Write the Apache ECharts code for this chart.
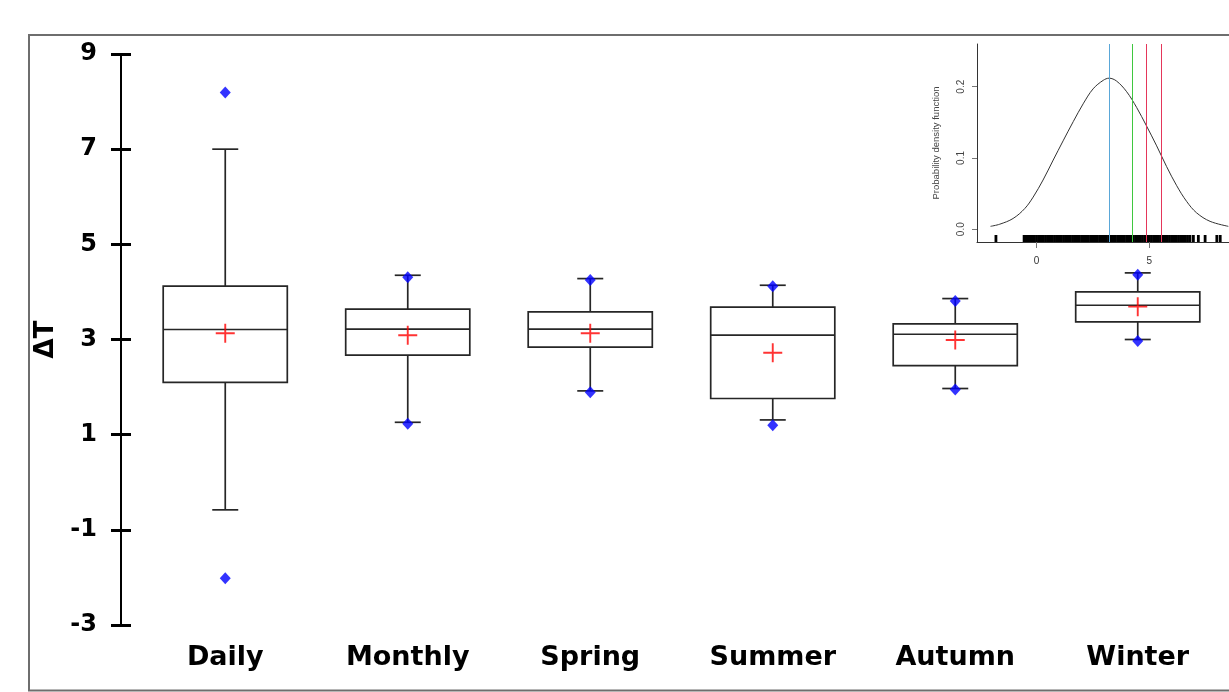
<!DOCTYPE html>
<html>
<head>
<meta charset="utf-8">
<script src="https://cdn.jsdelivr.net/npm/echarts@6/dist/echarts.min.js"></script>
<style>
html,body{margin:0;padding:0;background:#fff;}
#chart{width:1229px;height:692px;}
</style>
</head>
<body>
<div id="chart"></div>
<script>
// ---- main box plot data ----
const categories = ['Daily', 'Monthly', 'Spring', 'Summer', 'Autumn', 'Winter'];
const whiskerLow  = [-0.58, 1.26, 1.92, 1.31, 1.97, 3.00];
const q1          = [ 2.10, 2.67, 2.84, 1.76, 2.45, 3.37];
const median      = [ 3.21, 3.22, 3.22, 3.09, 3.11, 3.72];
const q3          = [ 4.12, 3.64, 3.58, 3.68, 3.33, 4.00];
const whiskerHigh = [ 7.00, 4.35, 4.28, 4.14, 3.86, 4.40];
const means       = [ 3.13, 3.09, 3.13, 2.72, 2.99, 3.69];
const extremeHigh = [ 8.19, 4.31, 4.25, 4.12, 3.81, 4.36];
const extremeLow  = [-2.02, 1.23, 1.89, 1.20, 1.95, 2.97];
const yMin = -3, yMax = 9, yStep = 2;

// ---- inset (density) data ----
const densityX = [-2.04, -1.63, -1.04, -0.52, -0.15, 0.29, 0.74, 1.18, 1.63, 2.07, 2.51, 2.96, 3.22, 3.55, 4.00, 4.44, 4.88, 5.33, 5.77, 6.22, 6.66, 7.10, 7.70, 8.51];
const densityY = [0.004, 0.007, 0.015, 0.029, 0.045, 0.069, 0.097, 0.124, 0.151, 0.176, 0.197, 0.209, 0.212, 0.208, 0.193, 0.171, 0.145, 0.117, 0.088, 0.061, 0.039, 0.023, 0.011, 0.004];
const rugValues = [-1.80, -0.55, -0.48, -0.37, -0.30,
  -0.2, -0.1, 0.0, 0.1, 0.2, 0.3, 0.4, 0.5, 0.6, 0.7, 0.8, 0.9, 1.0, 1.1, 1.2, 1.3, 1.4, 1.5, 1.6, 1.7, 1.8, 1.9,
  2.0, 2.1, 2.2, 2.3, 2.4, 2.5, 2.6, 2.7, 2.8, 2.9, 3.0, 3.1, 3.2, 3.3, 3.4, 3.5, 3.6, 3.7, 3.8, 3.9,
  4.0, 4.1, 4.2, 4.3, 4.4, 4.5, 4.6, 4.7, 4.8, 4.9, 5.0, 5.1, 5.2, 5.3, 5.4, 5.5, 5.6, 5.7, 5.8, 5.9,
  6.0, 6.1, 6.2, 6.3, 6.4, 6.5, 6.6, 6.7, 6.81, 6.96, 7.18, 7.48, 8.00, 8.15];
const refLines  = [3.21, 4.24, 4.87, 5.53];
const refColors = ['#5aa7d8', '#3fc73f', '#e5365a', '#e5365a'];
const insetYTicks = [0, 0.1, 0.2];
const insetXTicks = [0, 5];

// ---- build series data ----
const boxData = categories.map((c, i) => [i, whiskerLow[i], q1[i], median[i], q3[i], whiskerHigh[i]]);
const meanData = categories.map((c, i) => [c, means[i]]);
const extremeData = categories.map((c, i) => [c, extremeHigh[i]]).concat(categories.map((c, i) => [c, extremeLow[i]]));
const densityData = densityX.map((x, i) => [x, densityY[i]]);
const rugData = rugValues.map(v => [v, 0]);

const chart = echarts.init(document.getElementById('chart'), null, {renderer: 'canvas'});
const boldFont = 'DejaVu Sans';
const rFont = 'Liberation Sans';

const option = {
  backgroundColor: '#fff',
  animation: false,
  graphic: [{
    type: 'rect', z: -10,
    shape: {x: 29, y: 35, width: 1240, height: 655.5},
    style: {fill: 'none', stroke: '#6e6e6e', lineWidth: 2}
  }],
  grid: [
    {left: 134, right: 0, top: 54, bottom: 67},
    {left: 977, right: 0, top: 44, bottom: 450}
  ],
  xAxis: [
    {
      gridIndex: 0, type: 'category', data: categories,
      axisLine: {show: false}, axisTick: {show: false}, splitLine: {show: false},
      axisLabel: {fontFamily: boldFont, fontWeight: 'bold', fontSize: 27, color: '#000', margin: 19}
    },
    {
      gridIndex: 1, type: 'value', min: -2.64, max: 8.54,
      axisLine: {show: true, onZero: false, lineStyle: {color: '#333', width: 1}},
      axisTick: {show: true, customValues: insetXTicks, length: 6, lineStyle: {color: '#777', width: 1}},
      axisLabel: {customValues: insetXTicks, fontFamily: rFont, fontSize: 10, color: '#333', margin: 14},
      splitLine: {show: false}
    }
  ],
  yAxis: [
    {
      gridIndex: 0, type: 'value', position: 'left', offset: 13,
      min: yMin, max: yMax, interval: yStep,
      name: 'ΔT', nameLocation: 'middle', nameGap: 58, nameRotate: 90,
      nameTextStyle: {fontFamily: boldFont, fontWeight: 'bold', fontSize: 26, color: '#000'},
      axisLine: {show: true, onZero: false, lineStyle: {color: '#000', width: 2}},
      axisTick: {show: true, inside: false, length: 10, lineStyle: {color: '#000', width: 3}},
      axisLabel: {fontFamily: boldFont, fontWeight: 'bold', fontSize: 24, color: '#000', margin: 24},
      splitLine: {show: false}
    },
    {
      gridIndex: 0, type: 'value', position: 'left', offset: 13,
      min: yMin, max: yMax, interval: yStep,
      axisLine: {show: false, onZero: false},
      axisTick: {show: true, inside: true, length: 10, lineStyle: {color: '#000', width: 3}},
      axisLabel: {show: false},
      splitLine: {show: false}
    },
    {
      gridIndex: 1, type: 'value', min: -0.018, max: 0.26, position: 'left',
      name: 'Probability density function', nameLocation: 'middle', nameGap: 36, nameRotate: 90,
      nameTextStyle: {fontFamily: rFont, fontSize: 9.5, color: '#444'},
      axisLine: {show: true, onZero: false, lineStyle: {color: '#333', width: 1}},
      axisTick: {show: true, customValues: insetYTicks, length: 5, lineStyle: {color: '#777', width: 1}},
      axisLabel: {customValues: insetYTicks, rotate: 90, fontFamily: rFont, fontSize: 10, color: '#444', margin: 11,
        formatter: v => Number(v).toFixed(1)},
      splitLine: {show: false}
    }
  ],
  series: [
    {
      type: 'custom', xAxisIndex: 0, yAxisIndex: 0, z: 2,
      data: boxData,
      encode: {x: 0, y: [1, 2, 3, 4, 5]},
      renderItem: function (params, api) {
        const idx = api.value(0);
        const pLow = api.coord([idx, api.value(1)]);
        const pQ1 = api.coord([idx, api.value(2)]);
        const pMed = api.coord([idx, api.value(3)]);
        const pQ3 = api.coord([idx, api.value(4)]);
        const pHigh = api.coord([idx, api.value(5)]);
        const band = api.size([1, 0])[0];
        const bw = band * 0.68;
        const cw = 26;
        const x = pMed[0];
        const st = {stroke: '#262626', lineWidth: 1.7, fill: null};
        return {
          type: 'group',
          children: [
            {type: 'line', shape: {x1: x, y1: pQ3[1], x2: x, y2: pHigh[1]}, style: st},
            {type: 'line', shape: {x1: x, y1: pQ1[1], x2: x, y2: pLow[1]}, style: st},
            {type: 'line', shape: {x1: x - cw / 2, y1: pHigh[1], x2: x + cw / 2, y2: pHigh[1]}, style: st},
            {type: 'line', shape: {x1: x - cw / 2, y1: pLow[1], x2: x + cw / 2, y2: pLow[1]}, style: st},
            {type: 'rect', shape: {x: x - bw / 2, y: pQ3[1], width: bw, height: pQ1[1] - pQ3[1]},
              style: {stroke: '#262626', lineWidth: 1.7, fill: '#fff'}},
            {type: 'line', shape: {x1: x - bw / 2, y1: pMed[1], x2: x + bw / 2, y2: pMed[1]}, style: st}
          ]
        };
      }
    },
    {
      type: 'scatter', xAxisIndex: 0, yAxisIndex: 0, z: 4,
      data: meanData,
      symbol: 'path://M9,0H11V9H20V11H11V20H9V11H0V9H9Z',
      symbolSize: 19,
      itemStyle: {color: '#ff0000'}
    },
    {
      type: 'scatter', xAxisIndex: 0, yAxisIndex: 0, z: 5,
      data: extremeData,
      symbol: 'diamond', symbolSize: [11, 12],
      itemStyle: {color: '#0000ff'}
    },
    {
      type: 'line', xAxisIndex: 1, yAxisIndex: 2, z: 3,
      data: densityData, smooth: 0.35, showSymbol: false, symbol: 'none',
      lineStyle: {color: '#333', width: 1},
      markLine: {
        silent: true, symbol: 'none', label: {show: false},
        data: refLines.map((v, i) => ({xAxis: v, lineStyle: {color: refColors[i], width: 1, type: 'solid'}}))
      }
    },
    {
      type: 'custom', xAxisIndex: 1, yAxisIndex: 2, z: 4,
      data: rugData,
      encode: {x: 0, y: 1},
      renderItem: function (params, api) {
        const p = api.coord([api.value(0), -0.018]);
        return {
          type: 'line',
          shape: {x1: p[0], y1: p[1], x2: p[0], y2: p[1] - 7},
          style: {stroke: '#000', lineWidth: 2.8}
        };
      }
    }
  ]
};
chart.setOption(option);
</script>
</body>
</html>
